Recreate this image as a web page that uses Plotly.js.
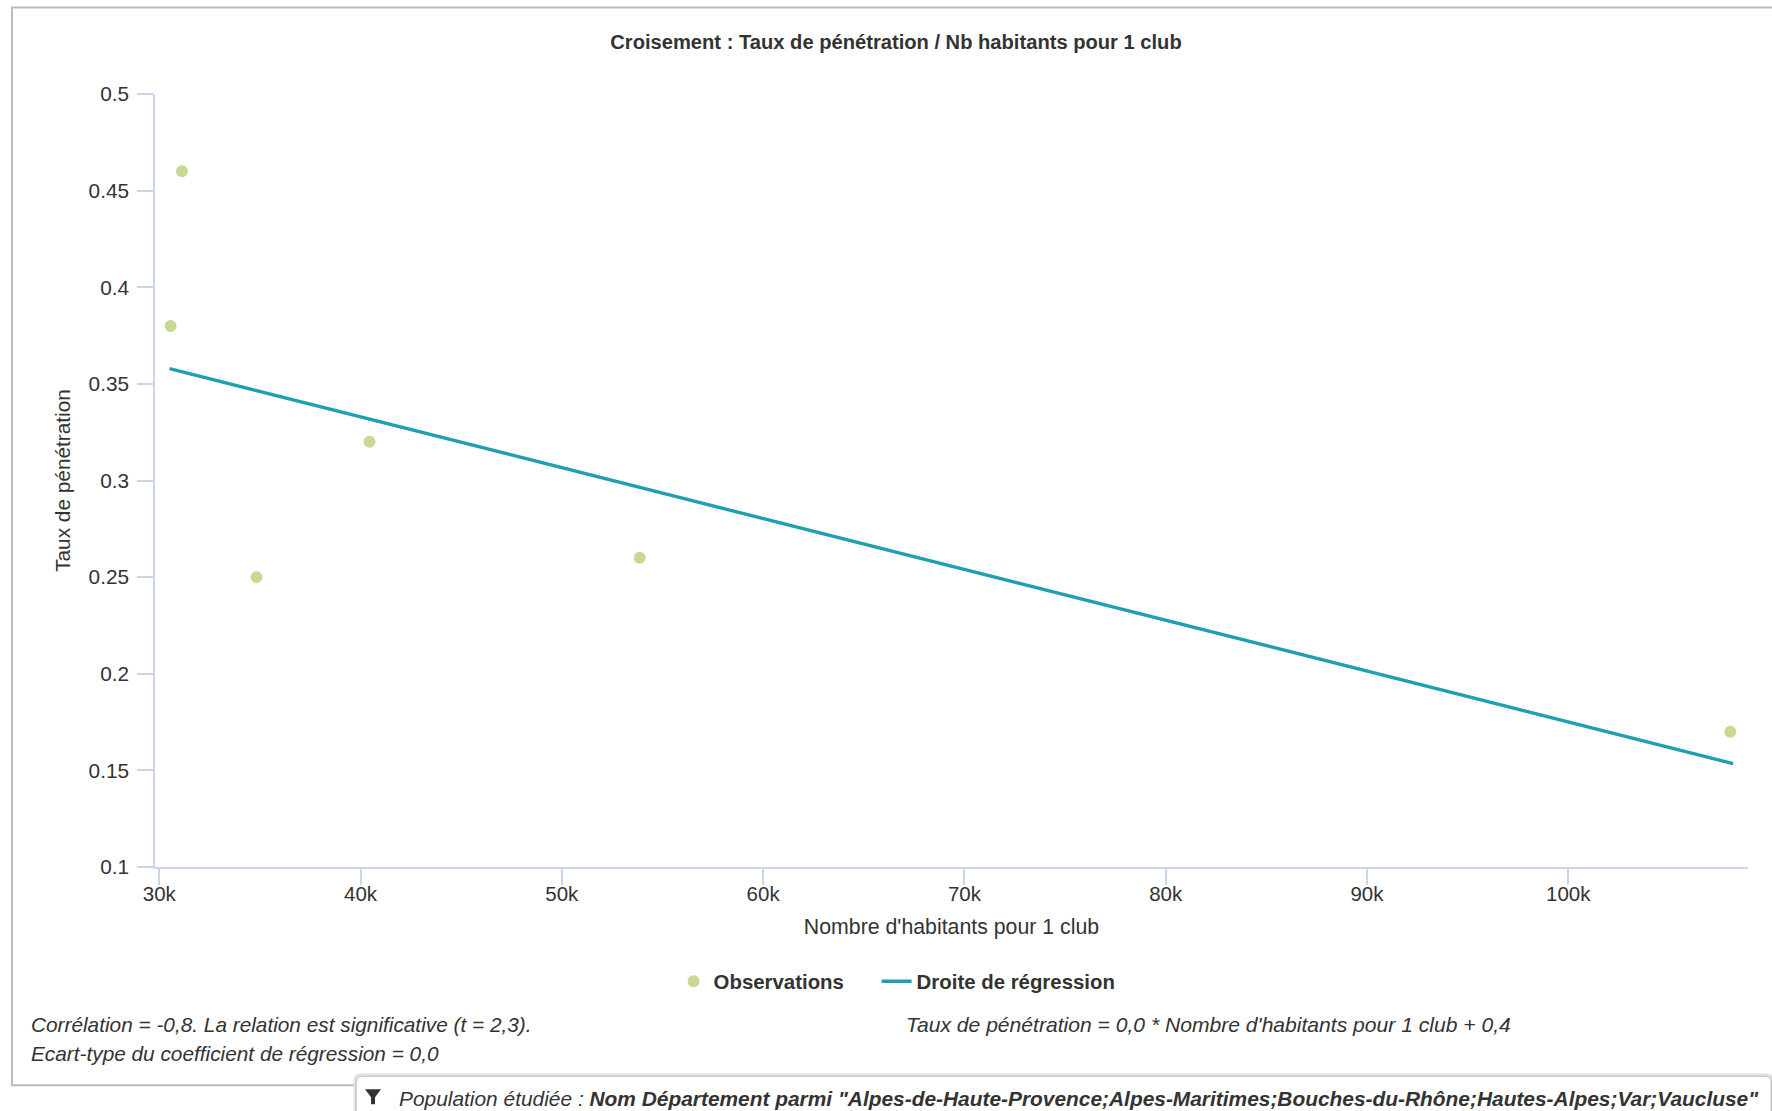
<!DOCTYPE html>
<html><head><meta charset="utf-8">
<script src="https://cdn.plot.ly/plotly-3.0.1.min.js"></script>
<style>html,body{margin:0;padding:0;background:#fff;overflow:hidden}#c{width:1772px;height:1111px}</style>
</head><body><div id="c"></div>
<script>
const habitants = [31128, 30561, 40445, 34830, 53867, 108051];
const penetration = [0.46, 0.38, 0.32, 0.25, 0.26, 0.17];
const regX = [30510, 108190];
const regY = [0.3579, 0.1535];
const xTicks = [30000,40000,50000,60000,70000,80000,90000,100000];
const xLabels = ['30k','40k','50k','60k','70k','80k','90k','100k'];
const yTicks = [0.1,0.15,0.2,0.25,0.3,0.35,0.4,0.45,0.5];
const yLabels = ['0.1','0.15','0.2','0.25','0.3','0.35','0.4','0.45','0.5'];
const W=1772,H=1111;
const L=155,R=1747.7,T=93.5,B=867.5;
const FONT='"Liberation Sans", Arial, sans-serif';
const px=x=>(x-L)/(R-L), py=y=>(B-y)/(B-T);
const axisCol='#ccd6eb';
function note(text,x,y,anchor,size){
  return {text,xref:'paper',yref:'paper',x:px(x),y:py(y),xanchor:anchor,yanchor:'middle',showarrow:false,
    xshift:-1,font:{family:FONT,size:size,color:'#333'}};
}
const boxPath=(x0,y0,x1,y1,r)=>`M ${px(x0)} ${py(y1)} L ${px(x0)} ${py(y0+r)} Q ${px(x0)} ${py(y0)} ${px(x0+r)} ${py(y0)} L ${px(x1-r)} ${py(y0)} Q ${px(x1)} ${py(y0)} ${px(x1)} ${py(y0+r)} L ${px(x1)} ${py(y1)}`;
const data=[
 {type:'scatter',mode:'markers',name:'Observations',x:habitants,y:penetration,legendwidth:158,
  marker:{size:13.5,color:'#c7d993',line:{color:'#fff',width:1.5}},cliponaxis:false,hoverinfo:'x+y'},
 {type:'scatter',mode:'lines',name:'Droite de régression',x:regX,y:regY,legendwidth:210,
  line:{color:'#1f9fb0',width:3.4},hoverinfo:'x+y'}
];
const layout={
 width:W,height:H,paper_bgcolor:'#fff',plot_bgcolor:'#fff',
 margin:{l:L,r:W-R,t:T,b:H-B,autoexpand:false,pad:0},
 font:{family:FONT,color:'#333',size:20},
 title:{text:'<b>Croisement : Taux de pénétration / Nb habitants pour 1 club</b>',
   x:896/W,xanchor:'center',y:1-42/H,yanchor:'middle',font:{family:FONT,size:20.15,color:'#333'}},
 xaxis:{range:[29787,108930],tickmode:'array',tickvals:xTicks,ticktext:xLabels,ticks:'outside',ticklen:16,tickwidth:1.5,tickcolor:axisCol,
   showline:true,linecolor:axisCol,linewidth:1.5,showgrid:false,zeroline:false,tickfont:{size:20.5,color:'#333'},ticklabelstandoff:-8,
   title:{text:"Nombre d'habitants pour 1 club",font:{size:21.3,color:'#333'},standoff:15}},
 yaxis:{range:[0.1,0.5],tickmode:'array',tickvals:yTicks,ticktext:yLabels,ticks:'outside',ticklen:16,tickwidth:1.5,tickcolor:axisCol,
   showline:true,linecolor:axisCol,linewidth:1.5,showgrid:false,zeroline:false,tickfont:{size:20.8,color:'#333'},ticklabelstandoff:4,ticklabelshift:0.5,
   title:{text:'Taux de pénétration',font:{size:20.8,color:'#333'},standoff:12}},
 showlegend:true,
 legend:{orientation:'h',xanchor:'left',yanchor:'middle',x:px(673.5),y:py(982.2),
   font:{family:FONT,size:20.4,color:'#333',weight:700},bgcolor:'rgba(0,0,0,0)',itemwidth:30,traceorder:'normal'},
 shapes:[
  {type:'rect',xref:'paper',yref:'paper',x0:px(12),x1:px(1790),y0:py(7),y1:py(1086),line:{color:'#bbb',width:2},layer:'below'},
  {type:'path',xref:'paper',yref:'paper',path:boxPath(355,1075.5,1772,1130,6)+' Z',fillcolor:'#fff',line:{color:'#e4e4e4',width:3},layer:'below'},
  {type:'path',xref:'paper',yref:'paper',path:boxPath(356,1077,1771,1130,6),line:{color:'#bdbdbd',width:1.2},layer:'below'},
  {type:'path',xref:'paper',yref:'paper',
   path:`M ${px(365)} ${py(1090)} L ${px(381)} ${py(1090)} L ${px(375)} ${py(1098)} L ${px(375)} ${py(1105)} L ${px(371)} ${py(1105)} L ${px(371)} ${py(1098)} Z`,
   fillcolor:'#333',line:{width:0}}
 ],
 annotations:[
  note('<i>Corrélation = -0,8. La relation est significative (t = 2,3).</i>',30,1025.3,'left',20.8),
  note('<i>Ecart-type du coefficient de régression = 0,0</i>',30,1054,'left',20.8),
  note("<i>Taux de pénétration = 0,0 * Nombre d'habitants pour 1 club + 0,4</i>",904.7,1025.3,'left',21.1),
  note('<i>Population étudiée : <b>Nom Département parmi "Alpes-de-Haute-Provence;Alpes-Maritimes;Bouches-du-Rhône;Hautes-Alpes;Var;Vaucluse"</b></i>',398,1099,'left',20.9)
 ]
};
Plotly.newPlot('c',data,layout,{displayModeBar:false,responsive:false});
</script></body></html>
